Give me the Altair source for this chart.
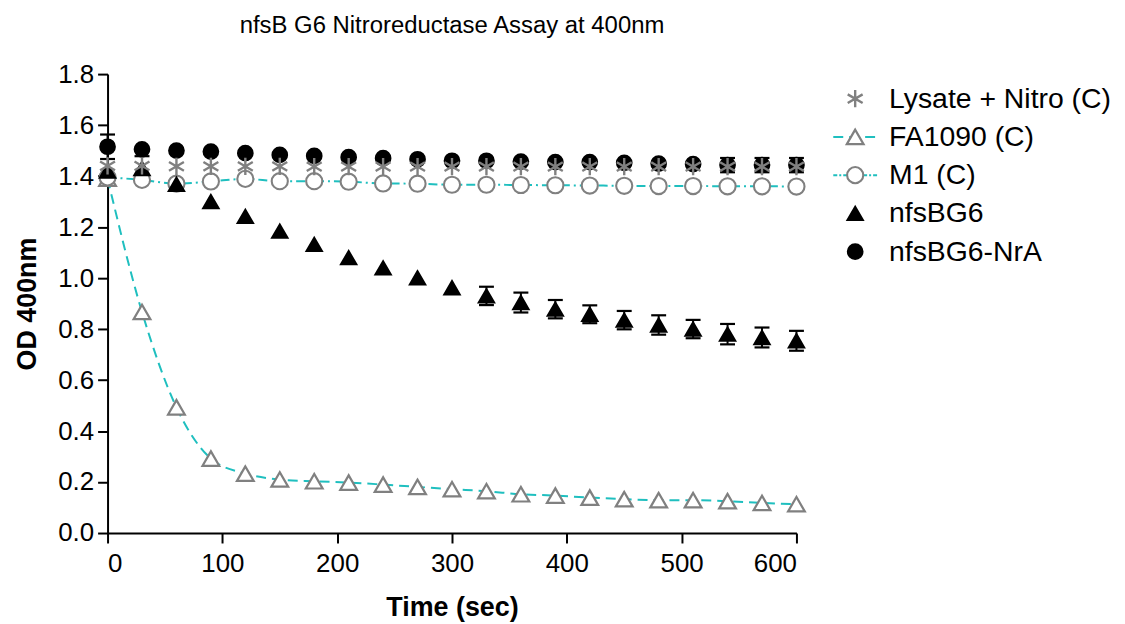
import altair as alt
import pandas as pd

# ---------------- data ----------------
time = [0, 30, 60, 90, 120, 150, 180, 210, 240, 270, 300,
        330, 360, 390, 420, 450, 480, 510, 540, 570, 600]

series_names = ["Lysate + Nitro (C)", "FA1090 (C)", "M1 (C)", "nfsBG6", "nfsBG6-NrA"]

lysate = [1.440, 1.440, 1.438, 1.438, 1.438, 1.438, 1.437, 1.437, 1.437, 1.437, 1.437,
          1.437, 1.437, 1.437, 1.437, 1.437, 1.437, 1.437, 1.437, 1.437, 1.437]
fa1090 = [1.390, 0.867, 0.493, 0.292, 0.233, 0.210, 0.203, 0.198, 0.190, 0.181, 0.172,
          0.164, 0.152, 0.147, 0.139, 0.133, 0.129, 0.129, 0.125, 0.118, 0.113]
m1 = [1.395, 1.385, 1.370, 1.379, 1.389, 1.380, 1.380, 1.378, 1.371, 1.370, 1.366,
      1.366, 1.365, 1.364, 1.363, 1.362, 1.361, 1.361, 1.360, 1.360, 1.359]
nfsbg6 = [1.420, 1.430, 1.368, 1.300, 1.242, 1.184, 1.132, 1.080, 1.040, 1.001, 0.962,
          0.930, 0.904, 0.878, 0.858, 0.835, 0.816, 0.800, 0.780, 0.767, 0.754]
nfsbg6_err = [0.0, 0.048, 0.015, 0.0, 0.0, 0.0, 0.0, 0.0, 0.0, 0.0, 0.0,
              0.036, 0.039, 0.036, 0.035, 0.036, 0.038, 0.036, 0.040, 0.039, 0.039]
nra = [1.515, 1.505, 1.500, 1.496, 1.490, 1.483, 1.479, 1.474, 1.470, 1.466, 1.460,
       1.460, 1.457, 1.455, 1.455, 1.452, 1.449, 1.447, 1.443, 1.443, 1.443]
nra_err = [0.048, 0.0, 0.0, 0.0, 0.0, 0.0, 0.0, 0.0, 0.0, 0.0, 0.0,
           0.0, 0.0, 0.0, 0.0, 0.0, 0.0, 0.0, 0.028, 0.028, 0.028]

x_ticks = [0, 100, 200, 300, 400, 500, 600]
y_ticks = [0.0, 0.2, 0.4, 0.6, 0.8, 1.0, 1.2, 1.4, 1.6, 1.8]

# ---------------- styling ----------------
FONT = "Liberation Sans"
CYAN = "#1fbfbf"
GREY = "#808080"
ASTERISK = "M0,-1L0,1M-0.866,-0.5L0.866,0.5M-0.866,0.5L0.866,-0.5"

shape_range = [ASTERISK, "triangle-up", "circle", "triangle-up", "circle"]
fill_range = ["transparent", "white", "white", "black", "black"]
stroke_range = [GREY, GREY, GREY, "black", "black"]
size_range = [300, 225, 200, 225, 200]
sw_range = [2.4, 1.8, 1.8, 1.8, 1.8]

shape_scale = alt.Scale(domain=series_names, range=shape_range)
fill_scale = alt.Scale(domain=series_names, range=fill_range)
stroke_scale = alt.Scale(domain=series_names, range=stroke_range)
size_scale = alt.Scale(domain=series_names, range=size_range)
sw_scale = alt.Scale(domain=series_names, range=sw_range)

# ---------------- tables ----------------
values_by_series = {
    "Lysate + Nitro (C)": lysate,
    "FA1090 (C)": fa1090,
    "M1 (C)": m1,
    "nfsBG6": nfsbg6,
    "nfsBG6-NrA": nra,
}
draw_order = ["FA1090 (C)", "M1 (C)", "nfsBG6", "nfsBG6-NrA", "Lysate + Nitro (C)"]
rows = []
for s in draw_order:
    for t, v in zip(time, values_by_series[s]):
        rows.append({"time": t, "series": s, "od": v})
df = pd.DataFrame(rows)

err_rows = []
for s, vals, errs in [("nfsBG6", nfsbg6, nfsbg6_err), ("nfsBG6-NrA", nra, nra_err)]:
    for t, v, e in zip(time, vals, errs):
        if e > 0:
            err_rows.append({"time": t, "series": s, "lo": v - e, "hi": v + e})
df_err = pd.DataFrame(err_rows)

x_enc = alt.X("time:Q", scale=alt.Scale(domain=[0, 600], nice=False),
              axis=alt.Axis(values=x_ticks, title="Time (sec)", format="d"))
y_enc = alt.Y("od:Q", scale=alt.Scale(domain=[0, 1.8], nice=False),
              axis=alt.Axis(values=y_ticks, title="OD 400nm", format=".1f"))

base = alt.Chart(df)

line_fa = base.transform_filter(alt.datum.series == "FA1090 (C)").mark_line(
    color=CYAN, strokeWidth=2, strokeDash=[10, 6], interpolate="monotone"
).encode(x=x_enc, y=y_enc)

line_m1 = base.transform_filter(alt.datum.series == "M1 (C)").mark_line(
    color=CYAN, strokeWidth=2, strokeDash=[9, 4, 2, 4], interpolate="monotone"
).encode(x=x_enc, y=y_enc)

err_base = alt.Chart(df_err)
err_rule = err_base.mark_rule(color="black", strokeWidth=2).encode(
    x="time:Q", y="lo:Q", y2="hi:Q")
err_cap_hi = err_base.mark_point(shape="stroke", size=225, strokeWidth=2.2,
                                 color="black", opacity=1).encode(x="time:Q", y="hi:Q")
err_cap_lo = err_base.mark_point(shape="stroke", size=225, strokeWidth=2.2,
                                 color="black", opacity=1).encode(x="time:Q", y="lo:Q")

points = base.mark_point(opacity=1, filled=False).encode(
    x=x_enc, y=y_enc,
    shape=alt.Shape("series:N", scale=shape_scale, legend=None),
    fill=alt.Fill("series:N", scale=fill_scale, legend=None),
    stroke=alt.Stroke("series:N", scale=stroke_scale, legend=None),
    size=alt.Size("series:N", scale=size_scale, legend=None),
    strokeWidth=alt.StrokeWidth("series:N", scale=sw_scale, legend=None),
)

main = alt.layer(line_fa, line_m1, err_rule, err_cap_hi, err_cap_lo, points).properties(
    width=692, height=461,
    title=alt.TitleParams("nfsB G6 Nitroreductase Assay at 400nm", font=FONT, fontSize=24,
                          fontWeight="normal", color="black", anchor="middle",
                          frame="group", offset=23),
)

# ---------------- legend panel ----------------
leg_df = pd.DataFrame({"label": series_names, "row": list(range(len(series_names)))})
LEG_H = 230
ROW_STEP = 38.4
FIRST = 24.7
d0 = -FIRST / ROW_STEP
leg_y = alt.Y("row:Q", scale=alt.Scale(domain=[d0, d0 + LEG_H / ROW_STEP], reverse=True,
                                       nice=False, zero=False), axis=None)
leg_base = alt.Chart(leg_df)

leg_line_fa = leg_base.transform_filter(alt.datum.label == "FA1090 (C)").mark_rule(
    color=CYAN, strokeWidth=2, strokeDash=[10, 6]
).encode(x=alt.value(0), x2=alt.value(45), y=leg_y)
leg_line_m1 = leg_base.transform_filter(alt.datum.label == "M1 (C)").mark_rule(
    color=CYAN, strokeWidth=2, strokeDash=[4, 2, 2, 2]
).encode(x=alt.value(0), x2=alt.value(45), y=leg_y)
leg_pts = leg_base.mark_point(opacity=1, filled=False).encode(
    x=alt.value(22), y=leg_y,
    shape=alt.Shape("label:N", scale=shape_scale, legend=None),
    fill=alt.Fill("label:N", scale=fill_scale, legend=None),
    stroke=alt.Stroke("label:N", scale=stroke_scale, legend=None),
    size=alt.Size("label:N", scale=size_scale, legend=None),
    strokeWidth=alt.StrokeWidth("label:N", scale=sw_scale, legend=None),
)
leg_text = leg_base.mark_text(align="left", baseline="middle", font=FONT, fontSize=28.5,
                              color="black").encode(
    x=alt.value(56), y=leg_y, text="label:N")

legend = alt.layer(leg_line_fa, leg_line_m1, leg_pts, leg_text).properties(
    width=270, height=LEG_H)

chart = alt.hconcat(main, legend, spacing=23).resolve_scale(
    shape="independent", fill="independent", stroke="independent", size="independent",
    strokeWidth="independent", y="independent"
).configure_view(stroke=None).configure_axis(
    grid=False,
    domainColor="black", domainWidth=2,
    tickColor="black", tickWidth=2, tickSize=10,
    labelFont=FONT, labelFontSize=26, labelColor="black", labelPadding=4,
    titleFont=FONT, titleFontSize=27, titleFontWeight="bold", titleColor="black",
).configure_axisX(titlePadding=18, labelPadding=8).configure_axisY(titlePadding=16)

chart.save("out.html", embed_options={"renderer": "svg", "actions": False})
